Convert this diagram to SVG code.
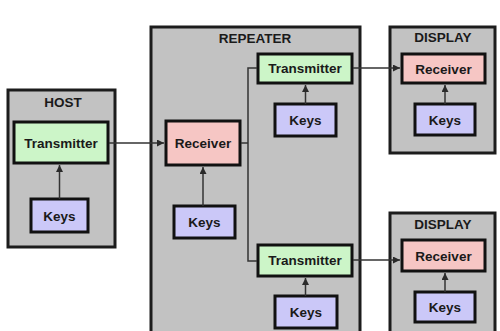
<svg xmlns="http://www.w3.org/2000/svg" width="500" height="331" viewBox="0 0 500 331">
<defs>
<marker id="arr" viewBox="0 0 10 10" refX="10" refY="5" markerWidth="7" markerHeight="7" markerUnits="userSpaceOnUse" orient="auto">
<path d="M0,0 L10,5 L0,10 z" fill="#2a2a2a"/>
</marker>
<style>
.outer{fill:#c2c2c2;stroke:#1c1c1c;stroke-width:3}
.tx{fill:#ccf5c8;stroke:#111;stroke-width:3}
.rx{fill:#f6c6c4;stroke:#111;stroke-width:3}
.keys{fill:#cbc8f8;stroke:#111;stroke-width:3}
.title{font-family:"Liberation Sans",Arial,sans-serif;font-weight:bold;font-size:13.5px;fill:#1a1a1a;text-anchor:middle}
.lbl{font-family:"Liberation Sans",Arial,sans-serif;font-weight:bold;font-size:13.5px;fill:#1a1a1a;text-anchor:middle}
.conn{fill:none;stroke:#333;stroke-width:1.5}
</style>
</defs>
<rect width="500" height="331" fill="#ffffff"/>
<g id="host">
<rect class="outer" x="8" y="90" width="107" height="157"/>
<text class="title" x="63" y="107">HOST</text>
<g id="host-tx"><rect class="tx" x="14" y="122" width="94" height="41"/><text class="lbl" x="61" y="148">Transmitter</text></g>
<g id="host-keys"><rect class="keys" x="31" y="199" width="57" height="33"/><text class="lbl" x="59.5" y="221">Keys</text></g>
</g>
<g id="repeater">
<rect class="outer" x="151" y="27" width="209" height="310"/>
<text class="title" x="255" y="43">REPEATER</text>
<g id="rep-rx"><rect class="rx" x="166" y="121" width="74" height="44"/><text class="lbl" x="203" y="148">Receiver</text></g>
<g id="rep-keys1"><rect class="keys" x="174" y="206" width="61" height="32"/><text class="lbl" x="204.5" y="227">Keys</text></g>
<g id="rep-tx1"><rect class="tx" x="258" y="54" width="94" height="29"/><text class="lbl" x="305" y="73">Transmitter</text></g>
<g id="rep-keys2"><rect class="keys" x="275" y="104" width="61" height="32"/><text class="lbl" x="305.5" y="125">Keys</text></g>
<g id="rep-tx2"><rect class="tx" x="258" y="245" width="94" height="31"/><text class="lbl" x="305" y="265">Transmitter</text></g>
<g id="rep-keys3"><rect class="keys" x="275" y="296" width="62" height="32"/><text class="lbl" x="306" y="317">Keys</text></g>
</g>
<g id="display1">
<rect class="outer" x="390" y="27" width="105" height="126"/>
<text class="title" x="443" y="42">DISPLAY</text>
<g id="d1-rx"><rect class="rx" x="402" y="54" width="83" height="29"/><text class="lbl" x="443.5" y="74">Receiver</text></g>
<g id="d1-keys"><rect class="keys" x="415" y="104" width="60" height="31"/><text class="lbl" x="445" y="125">Keys</text></g>
</g>
<g id="display2">
<rect class="outer" x="390" y="213" width="105" height="124"/>
<text class="title" x="443" y="229">DISPLAY</text>
<g id="d2-rx"><rect class="rx" x="402" y="240" width="83" height="31"/><text class="lbl" x="443.5" y="261">Receiver</text></g>
<g id="d2-keys"><rect class="keys" x="415" y="292" width="60" height="30"/><text class="lbl" x="445" y="312">Keys</text></g>
</g>
<g id="connectors">
<line class="conn" x1="59.5" y1="199" x2="59.5" y2="165" marker-end="url(#arr)"/>
<line class="conn" x1="109" y1="143" x2="164" y2="143" marker-end="url(#arr)"/>
<line class="conn" x1="203" y1="206" x2="203" y2="167" marker-end="url(#arr)"/>
<polyline class="conn" points="241,143 248,143"/>
<polyline class="conn" points="257,68 248,68 248,261 257,261"/>
<line class="conn" x1="305.5" y1="104" x2="305.5" y2="85" marker-end="url(#arr)"/>
<line class="conn" x1="305.5" y1="296" x2="305.5" y2="278" marker-end="url(#arr)"/>
<line class="conn" x1="353" y1="68" x2="400" y2="68" marker-end="url(#arr)"/>
<line class="conn" x1="353" y1="260" x2="400" y2="260" marker-end="url(#arr)"/>
<line class="conn" x1="445" y1="104" x2="445" y2="85" marker-end="url(#arr)"/>
<line class="conn" x1="445" y1="292" x2="445" y2="273" marker-end="url(#arr)"/>
</g>
</svg>
